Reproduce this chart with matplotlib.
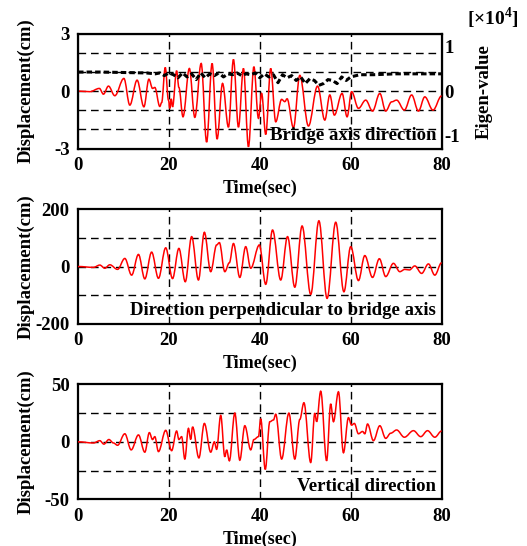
import numpy as np
import matplotlib
matplotlib.use("Agg")
import matplotlib.pyplot as plt
from matplotlib.path import Path
from matplotlib.patches import PathPatch

plt.rcParams['font.family'] = ['Liberation Serif', 'DejaVu Serif']
plt.rcParams['font.weight'] = 'bold'
plt.rcParams['font.size'] = 13
plt.rcParams['axes.unicode_minus'] = False
plt.rcParams['mathtext.fontset'] = 'custom'
plt.rcParams['mathtext.rm'] = 'Liberation Serif:bold'
plt.rcParams['mathtext.bf'] = 'Liberation Serif:bold'

# bridge axis direction (cm), turning points
t_axis = [0, 2.6, 4.7, 5.6, 6.7, 8.1, 10.1, 11.4, 13.0, 14.5, 15.6, 16.4, 16.9, 18.0, 18.4,
          19.2, 19.9, 20.2, 20.5, 20.8, 21.7, 22.2, 23.1, 24.5, 25.7, 27.1, 28.3, 29.5, 30.6,
          31.8, 33.1, 34.2, 35.3, 36.4, 37.5, 38.7, 39.7, 40.4, 41.3, 42.4, 43.5, 44.8, 45.5,
          46.0, 47.4, 48.8, 50.7, 52.7, 54.3, 55.4, 56.4, 58.1, 59.2, 60.2, 61.7, 63.3, 64.8,
          66.4, 67.7, 69.0, 70.1, 71.8, 73.4, 74.9, 76.3, 78.1, 80.0]
d_axis = [0, -0.03, 0.14, -0.16, 0.26, -0.24, 0.66, -0.73, 0.57, -0.82, 0.62, 0.14, 0.19, -0.8, -0.6,
          1.23, -0.47, -0.9, -0.4, -0.82, 1.06, 0.19, -1.34, 1.18, -1.37, 1.44, -2.66, 1.44, -2.5,
          0.4, -1.88, 1.65, -1.88, 1.18, -2.9, 1.27, -1.42, -0.12, -2.26, 1.18, -1.6, -0.43, -0.55,
          -0.4, -1.91, 0.82, -1.82, 0.26, -1.51, -0.2, -1.25, -0.12, -1.34, -0.03, -0.9, -0.47, -1.04,
          -0.12, -1.04, -0.56, -0.47, -0.99, -0.2, -1.04, -0.3, -0.99, -0.25]

# eigen-value (x10^4)
t_eig = [0, 5, 10, 15, 17, 18, 19, 20, 21, 22, 23, 24, 25, 26, 27, 28, 29, 30, 31, 32, 33, 34,
         35, 36, 37, 38, 39, 40, 41, 42, 43, 44, 45, 46, 47, 48, 49, 50, 51, 52, 53, 54, 55, 56,
         57, 58, 59, 60, 62, 65, 70, 80]
eig = [0.43, 0.43, 0.42, 0.41, 0.39, 0.41, 0.35, 0.41, 0.37, 0.30, 0.41, 0.32, 0.39, 0.26, 0.41,
       0.30, 0.39, 0.35, 0.41, 0.32, 0.39, 0.37, 0.41, 0.35, 0.39, 0.37, 0.41, 0.30, 0.39, 0.32,
       0.37, 0.19, 0.37, 0.30, 0.35, 0.24, 0.32, 0.17, 0.28, 0.24, 0.13, 0.17, 0.26, 0.24, 0.17,
       0.32, 0.24, 0.32, 0.37, 0.37, 0.39, 0.39]

# direction perpendicular to bridge axis (cm)
t_perp = [0, 3.4, 4.8, 5.9, 7.0, 8.7, 10.3, 11.8, 13.3, 14.7, 16.2, 17.7, 19.3, 20.8, 22.2, 23.6,
          25.0, 26.5, 27.8, 29.2, 30.5, 31.1, 32.3, 33.3, 34.2, 35.6, 36.9, 38.0, 39.9, 41.3,
          42.8, 44.6, 46.1, 47.7, 49.3, 51.2, 53.0, 54.8, 56.7, 58.5, 60.0, 61.7, 63.1, 64.8,
          66.3, 67.7, 69.4, 70.8, 71.9, 72.9, 74.1, 75.6, 77.1, 78.5, 80.0]
d_perp = [0, -3, 5, -6, 6, -10, 28, -30, 42, -43, 50, -41, 65, -42, 63, -53,
          104, -47, 119, -18, 75, 83, -18, 13, 80, -38, 69, -6, 75, -62,
          127, -47, 104, -72, 141, -97, 159, -111, 154, -88, 69, -49, 38, -38,
          27, -35, 11, -18, -10, -12, 2, -24, 9, -30, 13]

# vertical direction (cm)
t_vert = [0, 3.4, 4.8, 5.7, 6.8, 7.8, 8.7, 10.3, 11.7, 13.3, 14.7, 15.7, 16.4, 16.9, 17.7, 19.3,
          20.6, 21.7, 22.2, 22.8, 23.5, 24.3, 24.8, 25.2, 26.6, 27.8, 29.2, 30.0, 30.5, 31.4,
          32.3, 32.7, 33.3, 34.5, 35.6, 36.7, 38.0, 38.7, 39.7, 40.2, 41.2, 42.2, 43.0, 43.5,
          44.8, 46.4, 47.7, 48.8, 49.7, 51.2, 52.1, 52.5, 53.4, 54.7, 55.6, 56.2, 57.3, 58.4,
          59.5, 60.2, 60.8, 61.7, 62.6, 63.1, 63.7, 65.0, 66.4, 67.7, 68.8, 70.1, 71.8, 73.8,
          75.4, 76.9, 78.5, 80.0]
d_vert = [0, -1, 1, -2, 2, -1, -3, 7, -7, 6, -9, 8, 2, 4.5, -8.5, 10,
          -7.7, 9.4, 2, 4.5, -15, 11.7, 2, 13, -14, 16, -9, 0, -6.5, 23,
          -13, -7, -16.5, 25, -16, 14, -7, 2, 4.5, 20, -24, 17.5, 19, 24,
          -15, 25, -15, 19.5, 34, -18, 25, 17.5, 44, -16.5, 33, 17.5, 43.5, -9.5,
          21, 14.5, 16, 7, 9, 7, 15.5, 1, 14, 3, 7.5, 10.3, 4, 9.7,
          4.5, 9.7, 4, 9.4]


def smooth_path(t, d, k=0.36):
    # cubic bezier between turning points, flat tangent at each one
    verts = [(t[0], d[0])]
    codes = [Path.MOVETO]
    for i in range(len(t) - 1):
        dt = t[i + 1] - t[i]
        verts += [(t[i] + k * dt, d[i]), (t[i + 1] - k * dt, d[i + 1]), (t[i + 1], d[i + 1])]
        codes += [Path.CURVE4] * 3
    return Path(verts, codes)


fig = plt.figure(figsize=(5.27, 5.46), dpi=100)

panels = [
    (t_axis, d_axis, 3, 1, 'Bridge axis direction', [0.9386, 0.7277]),
    (t_perp, d_perp, 200, 100, 'Direction perpendicular to bridge axis', [0.6172, 0.4066]),
    (t_vert, d_vert, 50, 25, 'Vertical direction', [0.2961, 0.0855]),
]

grid_kw = dict(color='black', lw=1.0, ls=(0, (5.5, 3.5)), zorder=1)

for i, (t, d, lim, step, title, (top, bot)) in enumerate(panels):
    ax = fig.add_axes([0.148, bot, 0.690, top - bot])
    ax.set_xlim(0, 80)
    ax.set_ylim(-lim, lim)
    for yv in np.arange(-lim + step, lim, step):
        ax.axhline(yv, **grid_kw)
    for xv in [20, 40, 60]:
        ax.axvline(xv, **grid_kw)
    ax.add_patch(PathPatch(smooth_path(t, d), facecolor='none', edgecolor='#ff0000',
                           lw=1.1, zorder=3))
    ax.set_xticks([0, 20, 40, 60, 80])
    ax.set_yticks([-lim, 0, lim])
    ax.tick_params(length=0, pad=6, labelsize=13.5)
    for s in ax.spines.values():
        s.set_linewidth(1.6)
    ax.set_xlabel('Time(sec)', fontsize=13, fontweight='bold', labelpad=4)
    ax.set_ylabel('Displacement(cm)', fontsize=13.5, fontweight='bold')
    ax.yaxis.set_label_coords(-0.12, 0.5)
    ax.text(0.985, 0.04, title, transform=ax.transAxes, ha='right', va='bottom',
            fontsize=13.5, fontweight='bold', zorder=4)
    if i == 0:
        ax2 = ax.twinx()
        ax2.set_ylim(-1.3, 1.3)
        ax2.plot(t_eig, eig, color='black', lw=2.2, ls=(0, (1.8, 1.0)), zorder=2)
        ax2.set_yticks([-1, 0, 1])
        ax2.tick_params(length=0, pad=2, labelsize=13.5)
        ax2.set_ylabel('Eigen-value', fontsize=13.5, fontweight='bold')
        ax2.yaxis.set_label_coords(1.095, 0.5)
        ax2.text(1.14, 1.02, '[×10$^{4}$]', transform=ax.transAxes,
                 ha='center', va='bottom', fontsize=14, fontweight='bold')

fig.savefig('out.png', dpi=100)
